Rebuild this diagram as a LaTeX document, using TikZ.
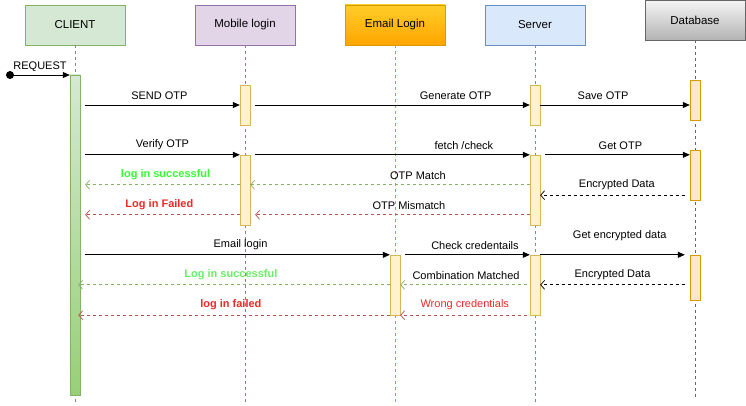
\documentclass[tikz,border=0pt]{standalone}
\usepackage{fontspec}
\setmainfont{Liberation Sans}
\usetikzlibrary{arrows.meta}

\definecolor{clientfill}{HTML}{D5E8D4}
\definecolor{clientline}{HTML}{82B366}
\definecolor{clientdark}{HTML}{97D077}
\definecolor{mobfill}{HTML}{E1D5E7}
\definecolor{mobline}{HTML}{9673A6}
\definecolor{mailtop}{HTML}{FFCD28}
\definecolor{mailbot}{HTML}{FFA500}
\definecolor{mailline}{HTML}{D79B00}
\definecolor{srvfill}{HTML}{DAE8FC}
\definecolor{srvline}{HTML}{6C8EBF}
\definecolor{dbtop}{HTML}{F5F5F5}
\definecolor{dbbot}{HTML}{B3B3B3}
\definecolor{dbline}{HTML}{666666}
\definecolor{barfill}{HTML}{FFF2CC}
\definecolor{barline}{HTML}{D6B656}
\definecolor{dbbarfill}{HTML}{FFE6CC}
\definecolor{okline}{HTML}{82B366}
\definecolor{failline}{HTML}{B85450}
\definecolor{okgreen}{HTML}{33FF33}
\definecolor{oklight}{HTML}{66EE66}
\definecolor{failred}{HTML}{F02828}

\begin{document}
\begin{tikzpicture}[x=1pt, y=-1pt,
  head/.style={draw, minimum width=100pt, minimum height=40pt, inner sep=0pt, font=\fontsize{11.5}{13}\selectfont},
  bar/.style={draw=barline, fill=barfill, minimum width=10pt, inner sep=0pt},
  dbbar/.style={draw=mailline, fill=dbbarfill, minimum width=10pt, inner sep=0pt},
  life/.style={dashed, line width=0.6pt, dash pattern=on 3pt off 3pt},
  msg/.style={line width=0.8pt, -{Triangle[length=7pt, width=6pt]}},
  ret/.style={line width=0.7pt, dash pattern=on 3pt off 3pt, -{Straight Barb[length=4pt, width=9pt, line width=0.7pt]}},
  lbl/.style={font=\fontsize{11}{12}\selectfont, inner sep=0pt},
  blbl/.style={font=\fontsize{11}{12}\selectfont\bfseries, inner sep=0pt}]
  \useasboundingbox (0,0) rectangle (746,406);

  \node[head, draw=clientline, fill=clientfill] at (75,25) (client) {CLIENT};
  \node[head, draw=mobline, fill=mobfill] at (245,25) (mobile) {Mobile login};
  \node[head, draw=mailline, top color=mailtop, bottom color=mailbot] at (395,25) (email) {Email Login};
  \node[head, draw=srvline, fill=srvfill] at (535,25) (server) {Server};
  \node[head, draw=dbline, top color=dbtop, bottom color=dbbot] at (695,20) (db) {Database};

  \coordinate (clientend) at (75,402);
  \coordinate (mobileend) at (245,404);
  \coordinate (emailend) at (395,404);
  \coordinate (serverend) at (535,402);
  \coordinate (dbend) at (695,397);
  \draw[life, draw=dbline!80] (client) -- (clientend);
  \draw[life, draw=mobline] (mobile) -- (mobileend);
  \draw[life, draw=mailline] (email) -- (emailend);
  \draw[life, draw=srvline] (server) -- (serverend);
  \draw[life, draw=dbline] (db) -- (dbend);

  \node[draw=clientline, top color=clientfill, bottom color=clientdark, minimum width=10pt, minimum height=320pt, inner sep=0pt] at (75,235) (cbar) {};
  \node[bar, minimum height=40pt] at (245,105) (m1) {};
  \node[bar, minimum height=70pt] at (245,190) (m2) {};
  \node[bar, minimum height=60pt] at (395,285) (e1) {};
  \node[bar, minimum height=40pt] at (535,105) (s1) {};
  \node[bar, minimum height=70pt] at (535,190) (s2) {};
  \node[bar, minimum height=60pt] at (535,285) (s3) {};
  \node[dbbar, minimum height=40pt] at (695,100) (d1) {};
  \node[dbbar, minimum height=50pt] at (695,175) (d2) {};
  \node[dbbar, minimum height=45pt] at (695,277.5) (d3) {};

  \fill (10,75) circle (4pt) coordinate (start);
  \draw[msg] (start) -- (start -| cbar.west);
  \node[lbl] at (40,67) {REQUEST};

  \draw[msg] ([xshift=5pt]cbar.east |- m1) -- (m1.west) node[lbl, pos=0.48, above=5pt] {SEND OTP};
  \draw[msg] ([xshift=5pt]m1.east) -- (s1.west) node[lbl, pos=0.73, above=5pt] {Generate OTP};
  \draw[msg] (s1.east) -- (s1.east -| d1.west) node[lbl, pos=0.42, above=5pt] {Save OTP};

  \draw[msg] ([xshift=5pt]cbar.east |- m2.north) -- (m2.north west) node[lbl, pos=0.5, above=5pt] {Verify OTP};
  \draw[msg] ([xshift=5pt]m2.north east) -- (s2.north west) node[lbl, pos=0.76, above=5pt] {fetch /check};
  \draw[msg] ([xshift=5pt]s2.north east) -- (s2.north east -| d2.west) node[lbl, pos=0.52, above=5pt] {Get OTP};

  \draw[ret, draw=okline] ([yshift=-30pt]s2.north west) -- ([yshift=-30pt]m2.north east) node[lbl, pos=0.4, above=5pt] {OTP Match};
  \draw[ret, draw=okline] ([yshift=-30pt]m2.north west) -- ([xshift=5pt,yshift=-30pt]cbar.east |- m2.north) node[blbl, text=okgreen, pos=0.48, above=5pt] {log in successful};
  \draw[ret] ([xshift=-5pt,yshift=5pt]d2.south west) -- ([yshift=5pt]d2.south west -| s2.east) node[lbl, pos=0.47, above=5pt] {Encrypted Data};
  \draw[ret, draw=failline] ([yshift=-60pt]s2.north west) -- ([xshift=5pt,yshift=-60pt]m2.north east) node[lbl, pos=0.44, above=5pt] {OTP Mismatch};
  \draw[ret, draw=failline] ([yshift=-60pt]m2.north west) -- ([xshift=5pt,yshift=-60pt]cbar.east |- m2.north) node[blbl, text=failred, pos=0.52, above=5pt] {Log in Failed};

  \draw[msg] ([xshift=5pt]cbar.east |- e1.north) -- (e1.north west) node[lbl, pos=0.51, above=5pt] {Email login};
  \draw[msg] ([xshift=5pt]e1.north east) -- (s3.north west) node[lbl, pos=0.56, above=5pt] {Check credentails};
  \draw[msg] (s3.north east) -- ([xshift=-5pt]s3.north east -| d3.west) node[lbl, pos=0.55, above=14pt] {Get encrypted data};

  \draw[ret, draw=okline] ([xshift=-3pt,yshift=-30pt]s3.north west) -- ([yshift=-30pt]e1.north east) node[lbl, pos=0.48, above=5pt] {Combination Matched};
  \draw[ret, draw=okline] ([yshift=-30pt]e1.north west) -- ([xshift=-2pt,yshift=-30pt]cbar.east |- e1.north) node[blbl, text=oklight, pos=0.51, above=5pt] {Log in successful};
  \draw[ret] ([xshift=-5pt,yshift=-30pt]d3.north west) -- ([yshift=-30pt]s3.north east) node[lbl, pos=0.5, above=5pt] {Encrypted Data};
  \draw[ret, draw=failline] ([xshift=-3pt]s3.south west) -- (e1.south east) node[lbl, text=failred, pos=0.49, above=5pt] {Wrong credentials};
  \draw[ret, draw=failline] (e1.south west) -- ([xshift=-2pt]e1.south west -| cbar.east) node[blbl, text=failred, pos=0.51, above=5pt] {log in failed};
\end{tikzpicture}
\end{document}
